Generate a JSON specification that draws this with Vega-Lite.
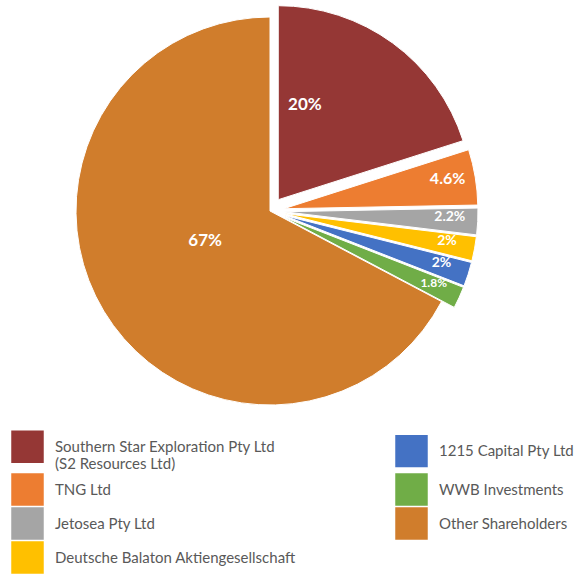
{
  "$schema": "https://vega.github.io/schema/vega-lite/v6.json",
  "width": 540,
  "height": 422,
  "padding": 0,
  "background": "white",
  "config": {"view": {"stroke": null}, "font": "Lato"},
  "data": {
    "values": [
      {"holder": "Southern Star Exploration Pty Ltd (S2 Resources Ltd)", "pct": 20, "label": "20%", "order": 1},
      {"holder": "TNG Ltd", "pct": 4.6, "label": "4.6%", "order": 2},
      {"holder": "Jetosea Pty Ltd", "pct": 2.2, "label": "2.2%", "order": 3},
      {"holder": "Deutsche Balaton Aktiengesellschaft", "pct": 2, "label": "2%", "order": 4},
      {"holder": "1215 Capital Pty Ltd", "pct": 2, "label": "2%", "order": 5},
      {"holder": "WWB Investments", "pct": 1.8, "label": "1.8%", "order": 6},
      {"holder": "Other Shareholders", "pct": 67, "label": "67%", "order": 7}
    ]
  },
  "encoding": {
    "theta": {"field": "pct", "type": "quantitative", "stack": true},
    "order": {"field": "order", "type": "quantitative"}
  },
  "layer": [
    {
      "mark": {
        "type": "arc",
        "radius": 194,
        "stroke": "white",
        "strokeWidth": 1,
        "xOffset": {"expr": "datum.order == 7 ? 0 : 14 * sin(PI * (datum.pct_start + datum.pct_end) / 99.6)"},
        "yOffset": {"expr": "datum.order == 7 ? 0 : -14 * cos(PI * (datum.pct_start + datum.pct_end) / 99.6)"}
      },
      "encoding": {
        "color": {
          "field": "holder",
          "type": "nominal",
          "scale": {
            "domain": ["Southern Star Exploration Pty Ltd (S2 Resources Ltd)", "TNG Ltd", "Jetosea Pty Ltd", "Deutsche Balaton Aktiengesellschaft", "1215 Capital Pty Ltd", "WWB Investments", "Other Shareholders"],
            "range": ["#953735", "#ED7D31", "#A5A5A5", "#FFC000", "#4472C4", "#70AD47", "#D07D2C"]
          },
          "legend": {
            "title": null,
            "orient": "none",
            "legendX": 11,
            "legendY": 430,
            "columns": 2,
            "columnPadding": 99,
            "rowPadding": 1,
            "symbolType": "square",
            "symbolSize": 1056,
            "symbolStrokeWidth": 0,
            "labelFont": "Lato",
            "labelFontSize": 15,
            "labelColor": "#595959",
            "labelOffset": 11,
            "labelLimit": 400,
            "labelLineHeight": 15,
            "labelExpr": "datum.label == 'Southern Star Exploration Pty Ltd (S2 Resources Ltd)' ? ['Southern Star Exploration Pty Ltd', '(S2 Resources Ltd)'] : datum.label"
          }
        }
      }
    },
    {
      "mark": {"type": "text", "radius": 71, "dx": -4, "dy": -7, "fontWeight": "bold", "fontSize": 17, "color": "white", "font": "Lato"},
      "encoding": {
        "text": {"field": "label"},
        "opacity": {"condition": {"test": "datum.order == 7", "value": 1}, "value": 0}
      }
    },
    {
      "mark": {"type": "text", "radius": 110, "dx": -30, "dy": -17, "fontWeight": "bold", "fontSize": 17, "color": "white", "font": "Lato"},
      "encoding": {
        "text": {"field": "label"},
        "opacity": {"condition": {"test": "datum.order == 1", "value": 1}, "value": 0}
      }
    },
    {
      "mark": {"type": "text", "radius": 180, "dy": -3, "fontWeight": "bold", "color": "white", "font": "Lato"},
      "encoding": {
        "text": {"field": "label"},
        "size": {"condition": [{"test": "datum.order == 2", "value": 16}, {"test": "datum.order == 6", "value": 12}], "value": 14},
        "opacity": {"condition": {"test": "datum.order >= 2 && datum.order <= 6", "value": 1}, "value": 0}
      }
    }
  ]
}
